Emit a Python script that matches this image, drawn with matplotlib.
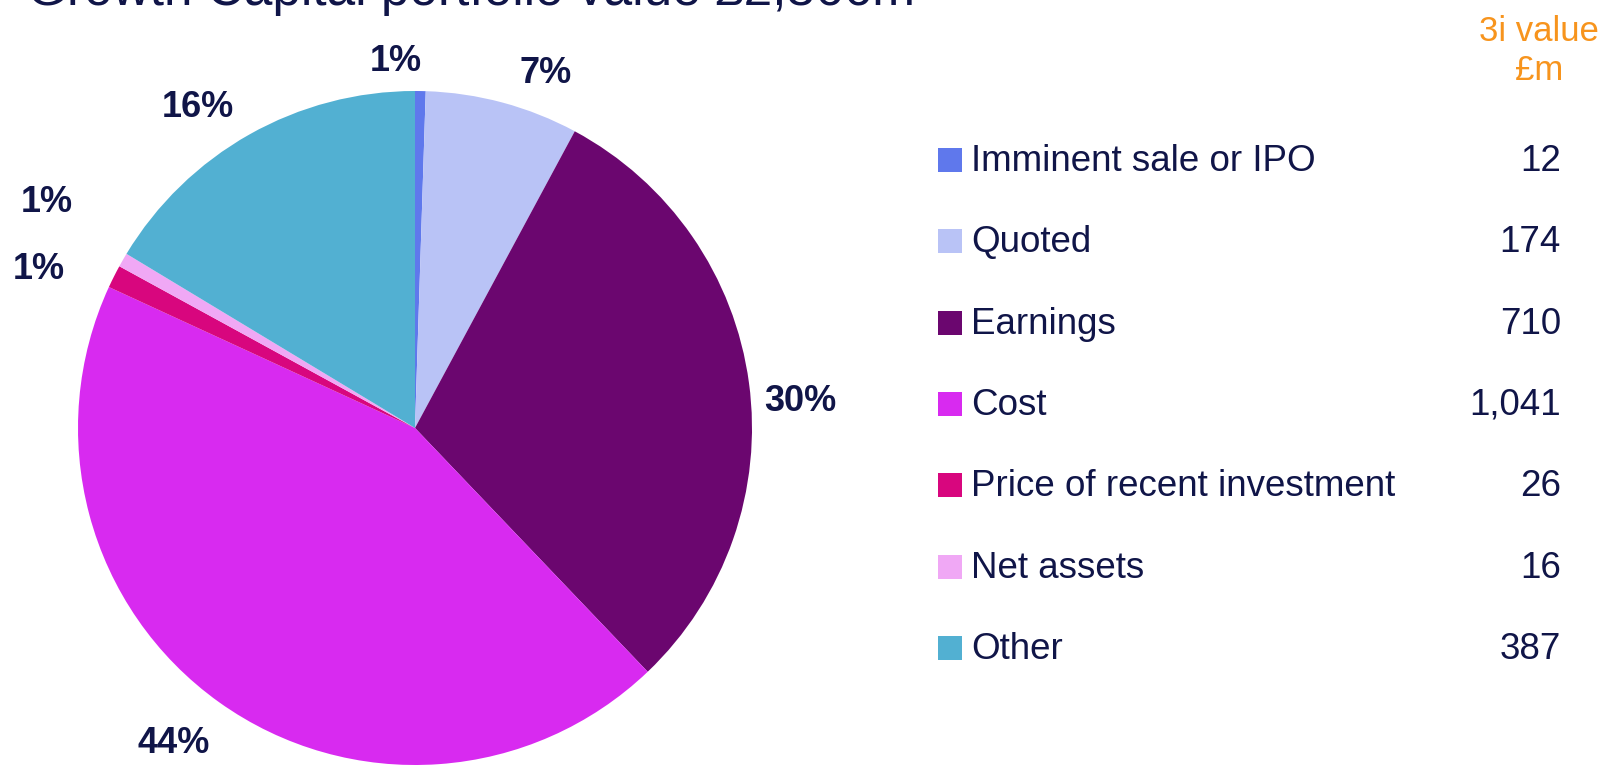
import numpy as np
import matplotlib
matplotlib.use("Agg")
import matplotlib.pyplot as plt
from matplotlib.patches import Rectangle

plt.rcParams['font.family'] = ['Liberation Sans', 'DejaVu Sans']

# data
categories = ['Imminent sale or IPO', 'Quoted', 'Earnings', 'Cost',
              'Price of recent investment', 'Net assets', 'Other']
values = [12, 174, 710, 1041, 26, 16, 387]
value_labels = ['12', '174', '710', '1,041', '26', '16', '387']
pct_labels = ['1%', '7%', '30%', '44%', '1%', '1%', '16%']
colors = ['#5F78EC', '#B9C3F6', '#6B066F', '#D82AF0', '#D8067E', '#F0A8F5', '#52B0D2']

title = 'Growth Capital portfolio value \u00a32,366m'
navy = '#101548'
orange = '#F7941D'

# label placement around the pie (radius multiples, angle nudges in deg)
lab_dist = [1.10, 1.13, 1.146, 1.17, 1.217, 1.286, 1.157]
lab_nudge = [3.9, -5, -3.2, -2.2, 3.4, -2, 4.4]

W, H = 1608, 765
fig = plt.figure(figsize=(W / 100, H / 100), dpi=100)

def fx(px):
    return px / W

def fy(py):
    return 1 - py / H

fig.text(fx(27), fy(5), title, fontsize=37, color=navy, va='baseline', ha='left')

# pie
cx, cy, r = 415, 428, 337
ax = fig.add_axes([fx(cx - r), fy(cy + r), 2 * r / W, 2 * r / H])
wedges, _ = ax.pie(values, colors=colors, startangle=90, counterclock=False,
                   radius=1, wedgeprops=dict(linewidth=0))
ax.set_xlim(-1, 1)
ax.set_ylim(-1, 1)
ax.axis('off')

# matplotlib's va=center sits a few px high vs the reference
shift = 3.5 / r
for w, lab, d, nud in zip(wedges, pct_labels, lab_dist, lab_nudge):
    ang = np.deg2rad((w.theta1 + w.theta2) / 2 + nud)
    ax.text(d * np.cos(ang), d * np.sin(ang) - shift, lab, ha='center', va='center',
            fontsize=26, fontweight='bold', color=navy, clip_on=False)

# legend table
fig.text(fx(1539), fy(41), '3i value', fontsize=25, color=orange, ha='center', va='baseline')
fig.text(fx(1539), fy(80), '\u00a3m', fontsize=25, color=orange, ha='center', va='baseline')

row0, step = 160, 81.3
for i, (cat, col, vl) in enumerate(zip(categories, colors, value_labels)):
    yc = row0 + i * step
    fig.patches.append(Rectangle((fx(938), fy(yc + 12)), 24 / W, 24 / H,
                                 transform=fig.transFigure, facecolor=col,
                                 edgecolor='none'))
    fig.text(fx(971), fy(yc + 11), cat, fontsize=26.5, color=navy, ha='left', va='baseline')
    fig.text(fx(1561), fy(yc + 11), vl, fontsize=26.5, color=navy, ha='right', va='baseline')

fig.savefig('out.png', dpi=100)
